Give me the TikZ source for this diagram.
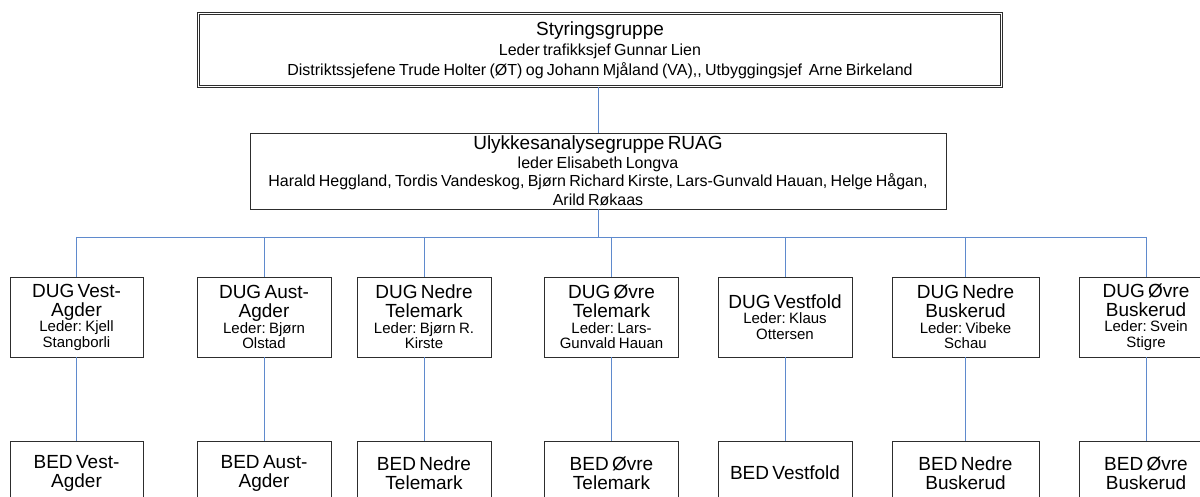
\documentclass[tikz,border=0pt]{standalone}
\usepackage{fontspec}
\setmainfont{Liberation Sans}
\frenchspacing
\definecolor{linkblue}{RGB}{95,138,205}
\definecolor{boxgray}{RGB}{45,45,45}
\newcommand{\ttlfont}{\fontsize{19}{19}\selectfont}
\newcommand{\subfont}{\fontsize{15}{15.5}\selectfont}
\newcommand{\topttl}{\fontsize{19}{21}\selectfont}
\newcommand{\topsub}{\fontsize{16}{20}\selectfont}
\newcommand{\ruagttl}{\fontsize{19}{19}\selectfont}
\newcommand{\ruagsub}{\fontsize{16}{18.5}\selectfont}
\begin{document}
\begin{tikzpicture}[x=1pt,y=-1pt,
  box/.style={draw=boxgray, line width=0.9pt, fill=white, inner sep=0pt, align=center},
  dugbox/.style={box, text width=130pt, minimum height=80pt},
  bedbox/.style={box, text width=130pt, minimum height=64pt},
  conn/.style={draw=linkblue, line width=0.9pt}]
\useasboundingbox (0,0) rectangle (1200,497);
\clip (0,0) rectangle (1200,497);

% top box (double border)
\node[box, double=white, double distance=1.5pt, line width=0.7pt,
      minimum width=803pt, minimum height=73pt, text width=795pt] (sty) at (600,50)
  {{\topttl Styringsgruppe\par}{\topsub Leder trafikksjef Gunnar Lien\\Distriktssjefene Trude Holter (ØT) og Johann Mjåland (VA),{},{} Utbyggingsjef\ \ Arne Birkeland\par}};

% RUAG box
\node[box, minimum width=696pt, minimum height=76pt, text width=692pt] (ruag) at (598,171)
  {{\ruagttl Ulykkesanalysegruppe RUAG\par}{\ruagsub leder Elisabeth Longva\\Harald Heggland, Tordis Vandeskog, Bjørn Richard Kirste, Lars-Gunvald Hauan, Helge Hågan,\\Arild Røkaas\par}};

\coordinate (bus) at (598,237);

% DUG boxes
\node[dugbox, minimum width=133pt] (dug1) at (76.5,317) {{\ttlfont DUG Vest-\\Agder\par}{\subfont Leder: Kjell\\Stangborli\par}};
\node[dugbox, minimum width=134pt] (dug2) at (264,317) {{\ttlfont DUG Aust-\\Agder\par}{\subfont Leder: Bjørn\\Olstad\par}};
\node[dugbox, minimum width=134pt] (dug3) at (424,317) {{\ttlfont DUG Nedre\\Telemark\par}{\subfont Leder: Bjørn R.\\Kirste\par}};
\node[dugbox, minimum width=134pt] (dug4) at (611.5,317) {{\ttlfont DUG Øvre\\Telemark\par}{\subfont Leder: Lars-\\Gunvald Hauan\par}};
\node[dugbox, minimum width=134pt] (dug5) at (785,317) {{\ttlfont DUG Vestfold\par}{\subfont Leder: Klaus\\Ottersen\par}};
\node[dugbox, minimum width=147pt] (dug6) at (965.5,317) {{\ttlfont DUG Nedre\\Buskerud\par}{\subfont Leder: Vibeke\\Schau\par}};
\node[dugbox, minimum width=134pt] (dug7) at (1146,317) {{\ttlfont DUG Øvre\\Buskerud\par}{\subfont Leder: Svein\\Stigre\par}};

% BED boxes
\node[bedbox, minimum width=133pt] (bed1) at (76.5,473) {{\ttlfont BED Vest-\\Agder\par}};
\node[bedbox, minimum width=134pt] (bed2) at (264,473) {{\ttlfont BED Aust-\\Agder\par}};
\node[bedbox, minimum width=134pt] (bed3) at (424,473) {{\ttlfont BED Nedre\\Telemark\par}};
\node[bedbox, minimum width=134pt] (bed4) at (611.5,473) {{\ttlfont BED Øvre\\Telemark\par}};
\node[bedbox, minimum width=134pt] (bed5) at (785,473) {{\ttlfont BED Vestfold\par}};
\node[bedbox, minimum width=147pt] (bed6) at (965.5,473) {{\ttlfont BED Nedre\\Buskerud\par}};
\node[bedbox, minimum width=134pt] (bed7) at (1146,473) {{\ttlfont BED Øvre\\Buskerud\par}};

% connectors
\draw[conn] (sty.south -| ruag.north) -- (ruag.north);
\draw[conn] (ruag.south) -- (bus);
\draw[conn] (dug1.north |- bus) -- (dug7.north |- bus);
\foreach \i in {1,...,7} {
  \draw[conn] (dug\i.north |- bus) -- (dug\i.north);
  \draw[conn] (dug\i.south) -- (bed\i.north);
}
\end{tikzpicture}
\end{document}
